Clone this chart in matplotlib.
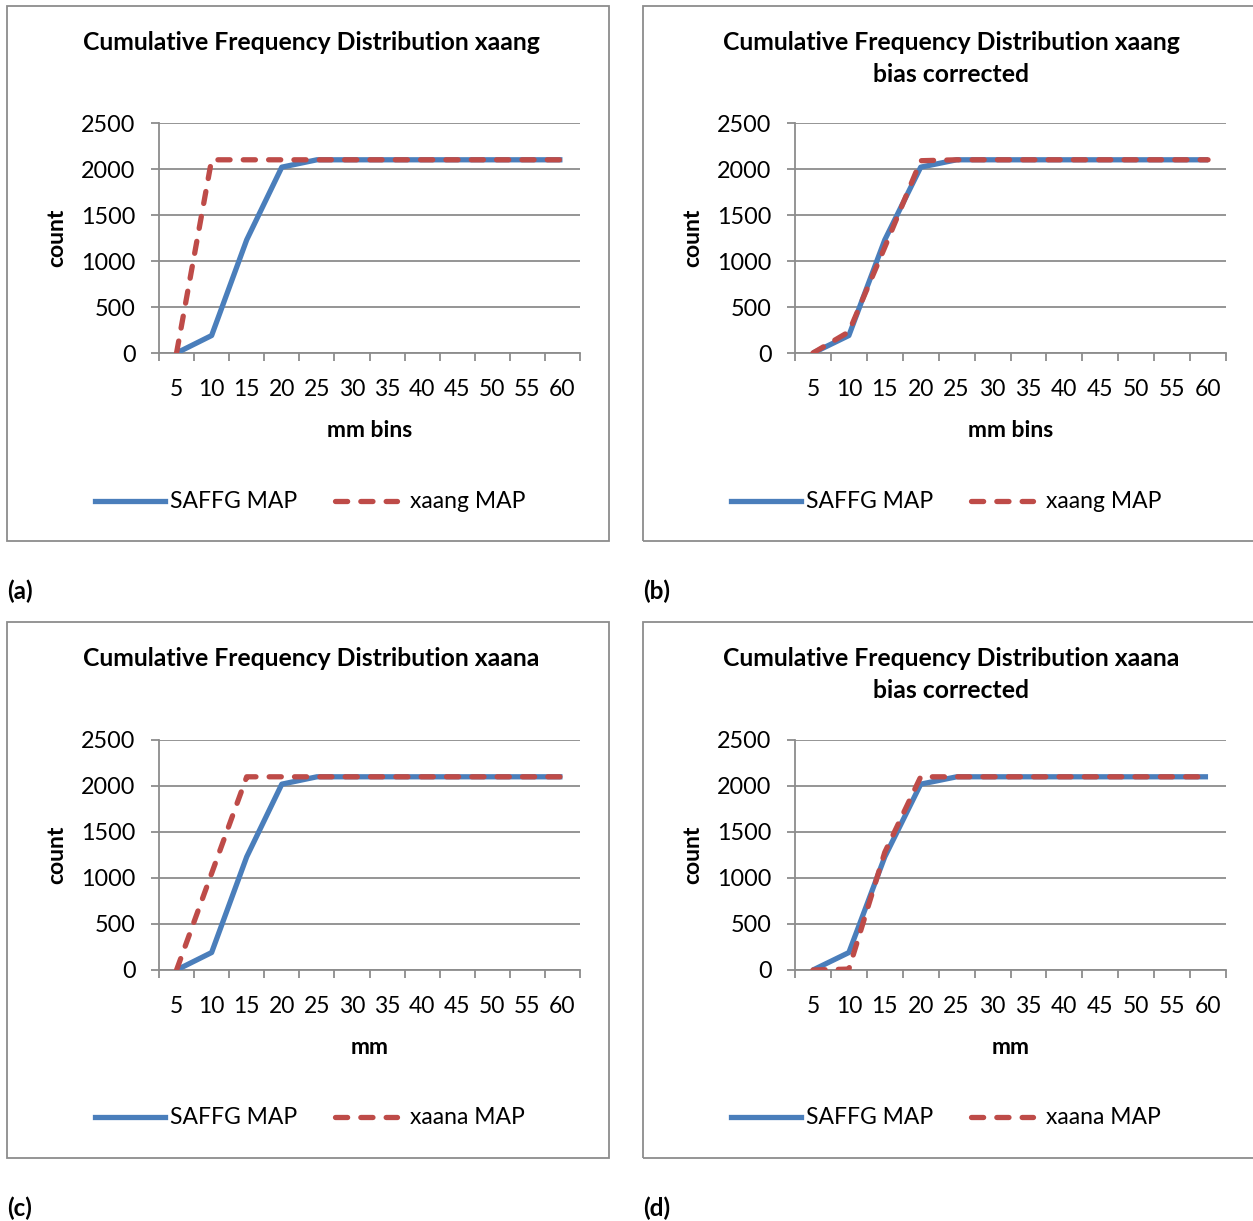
import matplotlib
matplotlib.use("Agg")
import matplotlib.pyplot as plt
from matplotlib.patches import Rectangle
from matplotlib.lines import Line2D

plt.rcParams['font.family'] = ['Lato', 'DejaVu Sans']

bins = ["5", "10", "15", "20", "25", "30", "35", "40", "45", "50", "55", "60"]
saffg = [0, 190, 1230, 2020, 2100, 2100, 2100, 2100, 2100, 2100, 2100, 2100]
xaang = [0, 2100, 2100, 2100, 2100, 2100, 2100, 2100, 2100, 2100, 2100, 2100]
xaang_bc = [0, 230, 1150, 2090, 2100, 2100, 2100, 2100, 2100, 2100, 2100, 2100]
xaana = [0, 1050, 2100, 2100, 2100, 2100, 2100, 2100, 2100, 2100, 2100, 2100]
xaana_bc = [0, 10, 1280, 2100, 2100, 2100, 2100, 2100, 2100, 2100, 2100, 2100]
yticks = [0, 500, 1000, 1500, 2000, 2500]

W, H = 1253, 1221
fig = plt.figure(figsize=(W / 100, H / 100), dpi=100)

BLUE = "#4A7EBB"
RED = "#BE4B48"
GRID = "#8C8C8C"
DASH = (2.3, 2.5)
FS = 16.5

panels = [
    dict(box=(7, 6, 609, 541), plot=(159, 123, 580, 353),
         title=["Cumulative Frequency Distribution xaang"], xlabel="mm bins",
         other=xaang, name="xaang MAP", tag="(a)", tagxy=(7, 591)),
    dict(box=(643, 6, 1260, 541), plot=(795, 123, 1226, 353),
         title=["Cumulative Frequency Distribution xaang", "bias corrected"], xlabel="mm bins",
         other=xaang_bc, name="xaang MAP", tag="(b)", tagxy=(643, 591)),
    dict(box=(7, 622, 609, 1158), plot=(159, 740, 580, 970),
         title=["Cumulative Frequency Distribution xaana"], xlabel="mm",
         other=xaana, name="xaana MAP", tag="(c)", tagxy=(7, 1208)),
    dict(box=(643, 622, 1260, 1158), plot=(795, 740, 1226, 970),
         title=["Cumulative Frequency Distribution xaana", "bias corrected"], xlabel="mm",
         other=xaana_bc, name="xaana MAP", tag="(d)", tagxy=(643, 1208)),
]

for p in panels:
    x0, y0, x1, y1 = p["box"]
    fig.patches.append(Rectangle((x0 / W, 1 - y1 / H), (x1 - x0) / W, (y1 - y0) / H,
                                 transform=fig.transFigure, fill=False,
                                 edgecolor="#8C8C8C", linewidth=1.3))
    px0, py0, px1, py1 = p["plot"]
    ax = fig.add_axes([px0 / W, 1 - py1 / H, (px1 - px0) / W, (py1 - py0) / H])
    x = list(range(len(bins)))
    ax.plot(x, saffg, color=BLUE, lw=3.8, solid_capstyle="butt", zorder=3)
    ax.plot(x, p["other"], color=RED, lw=3.8, dashes=DASH, dash_capstyle="round", zorder=4)
    ax.set_xlim(-0.5, len(bins) - 0.5)
    ax.set_ylim(0, 2500)
    ax.set_yticks(yticks)
    ax.set_yticklabels([str(v) for v in yticks])
    ax.set_xticks(x)
    ax.set_xticklabels(bins)
    ax.set_xticks([i - 0.5 for i in range(len(bins) + 1)], minor=True)
    ax.tick_params(axis="x", which="major", length=0, pad=19, labelsize=FS)
    ax.tick_params(axis="x", which="minor", length=6, width=1.3, color=GRID)
    ax.tick_params(axis="y", length=6, width=1.3, color=GRID, pad=11, labelsize=16.8)
    ax.grid(axis="y", color=GRID, lw=1.3)
    ax.set_axisbelow(True)
    for s in ["top", "right"]:
        ax.spines[s].set_visible(False)
    for s in ["left", "bottom"]:
        ax.spines[s].set_color(GRID)
        ax.spines[s].set_linewidth(1.3)
    ax.set_ylabel("count", fontsize=FS, fontweight="bold", labelpad=10)
    ax.set_xlabel(p["xlabel"], fontsize=FS, fontweight="bold", labelpad=14)
    cx = (x0 + min(x1, 1253)) / 2 + 3
    for i, line in enumerate(p["title"]):
        fig.text(cx / W, 1 - (y0 + 36 + 33 * i) / H, line, ha="center", va="center",
                 fontsize=17.8, fontweight="bold")
    # legend
    lx = x0 + 88
    ly = y0 + 495
    fig.lines.append(Line2D([lx / W, (lx + 70) / W], [1 - ly / H, 1 - ly / H],
                            transform=fig.transFigure, color=BLUE, lw=3.8))
    fig.text((lx + 75) / W, 1 - (ly + 1) / H, "SAFFG MAP", ha="left", va="center", fontsize=FS)
    rx = x0 + 328
    fig.lines.append(Line2D([rx / W, (rx + 62) / W], [1 - ly / H, 1 - ly / H],
                            transform=fig.transFigure, color=RED, lw=3.8,
                            dashes=DASH, dash_capstyle="round"))
    fig.text((rx + 75) / W, 1 - (ly + 1) / H, p["name"], ha="left", va="center", fontsize=FS)
    tx, ty = p["tagxy"]
    fig.text(tx / W, 1 - ty / H, p["tag"], ha="left", va="center", fontsize=17.5, fontweight="bold")

fig.savefig("out.png", dpi=100, facecolor="white")
